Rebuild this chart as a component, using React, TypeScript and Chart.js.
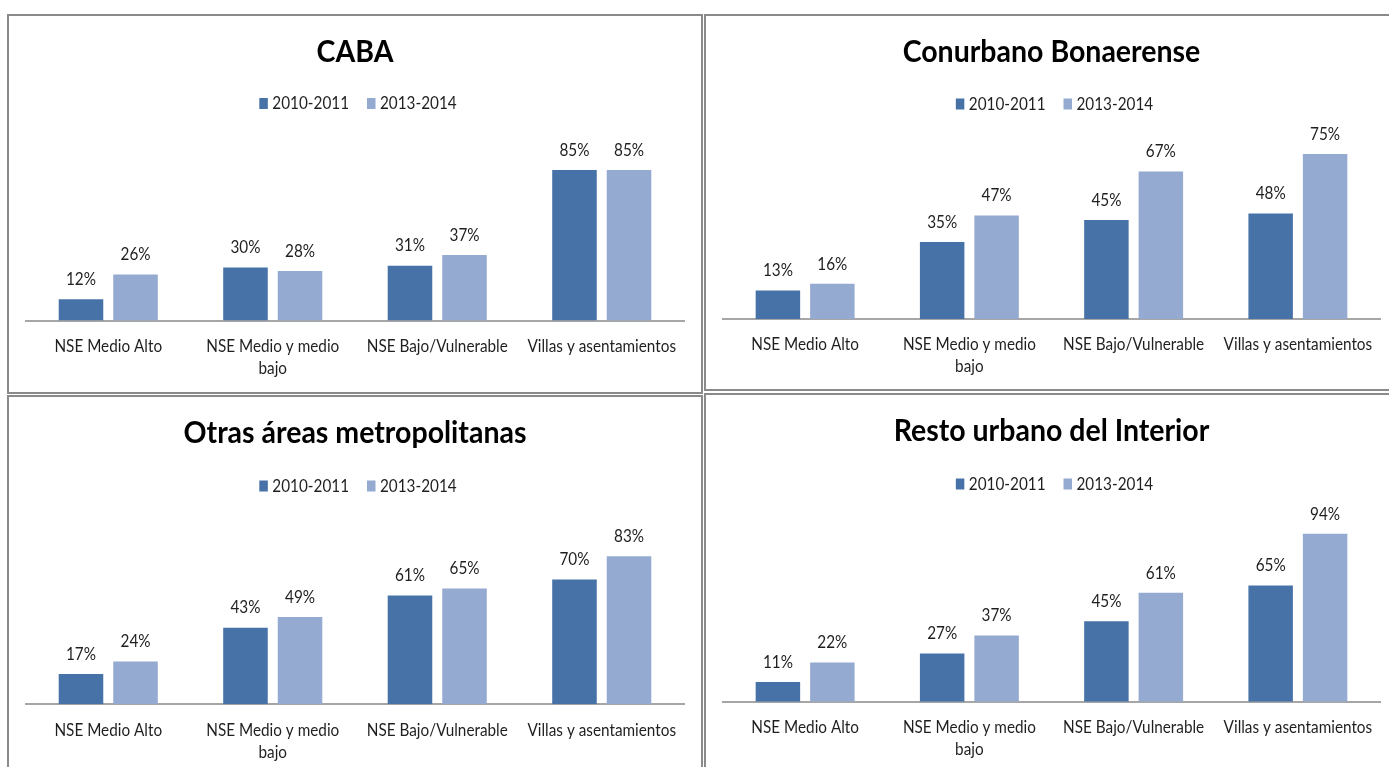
import React, { useEffect, useRef } from "react";
import { Chart, registerables } from "chart.js";

Chart.register(...registerables);

const FONT = "Lato, 'Open Sans', sans-serif";

const categories: (string | string[])[] = [
  "NSE Medio Alto",
  ["NSE Medio y medio", "bajo"],
  "NSE Bajo/Vulnerable",
  "Villas y asentamientos",
];
const seriesNames = ["2010-2011", "2013-2014"];
const seriesColors = ["#4672A8", "#95AAD1"];

const panelTitles = ["CABA", "Conurbano Bonaerense", "Otras áreas metropolitanas", "Resto urbano del Interior"];

const cabaFirst = [12, 30, 31, 85];
const cabaSecond = [26, 28, 37, 85];
const conurbanoFirst = [13, 35, 45, 48];
const conurbanoSecond = [16, 47, 67, 75];
const otrasFirst = [17, 43, 61, 70];
const otrasSecond = [24, 49, 65, 83];
const restoFirst = [11, 27, 45, 65];
const restoSecond = [22, 37, 61, 94];

const yMax = [100, 80, 100, 100];

const TEXT_SX = 0.85;
const TITLE_SX = 0.95;

function drawText(
  ctx: CanvasRenderingContext2D,
  text: string,
  x: number,
  y: number,
  font: string,
  sx: number,
  align: CanvasTextAlign,
  color: string
) {
  ctx.save();
  ctx.font = font;
  ctx.fillStyle = color;
  ctx.textAlign = align;
  ctx.textBaseline = "middle";
  ctx.translate(x, y);
  ctx.scale(sx, 1);
  ctx.fillText(text, 0, 0);
  ctx.restore();
}

function measure(ctx: CanvasRenderingContext2D, text: string, font: string, sx: number) {
  ctx.save();
  ctx.font = font;
  const w = ctx.measureText(text).width * sx;
  ctx.restore();
  return w;
}

const decorPlugin = {
  id: "decor",
  afterDatasetsDraw(chart: any, _args: any, opts: any) {
    const ctx = chart.ctx as CanvasRenderingContext2D;
    const area = chart.chartArea;
    const labelFont = `18px ${FONT}`;
    const textColor = "#1F1F1F";

    // data labels
    chart.data.datasets.forEach((ds: any, i: number) => {
      const meta = chart.getDatasetMeta(i);
      meta.data.forEach((el: any, j: number) => {
        drawText(ctx, `${ds.data[j]}%`, el.x, el.y - 20, labelFont, TEXT_SX, "center", textColor);
      });
    });

    // category labels along the x scale
    const xScale = chart.scales.x;
    chart.data.labels.forEach((lab: any, i: number) => {
      const lines = Array.isArray(lab) ? lab : [lab];
      const px = xScale.getPixelForValue(i);
      lines.forEach((ln: string, k: number) => {
        drawText(ctx, ln, px, area.bottom + 25.5 + k * 22, labelFont, TEXT_SX, "center", textColor);
      });
    });

    // title
    const cx = (area.left + area.right) / 2;
    drawText(ctx, opts.text, cx, opts.titleY, `bold 30px ${FONT}`, TITLE_SX, "center", "#000000");

    // legend
    const boxW = 8.5;
    const boxH = 11;
    const gapBoxText = 4.5;
    const gapItems = 18;
    const items = chart.data.datasets.map((ds: any) => ({
      label: ds.label as string,
      color: ds.backgroundColor as string,
      w: measure(ctx, ds.label, labelFont, TEXT_SX),
    }));
    let total = 0;
    items.forEach((it: any, i: number) => {
      total += boxW + gapBoxText + it.w + (i < items.length - 1 ? gapItems : 0);
    });
    let x = cx + 3 - total / 2;
    const ly = opts.legendY;
    items.forEach((it: any) => {
      ctx.save();
      ctx.fillStyle = it.color;
      ctx.fillRect(x, ly - boxH / 2, boxW, boxH);
      ctx.restore();
      x += boxW + gapBoxText;
      drawText(ctx, it.label, x, ly, labelFont, TEXT_SX, "left", textColor);
      x += it.w + gapItems;
    });
  },
};

type PanelProps = {
  title: string;
  first: number[];
  second: number[];
  max: number;
  box: { left: number; top: number; width: number; height: number };
  canvasW: number;
  canvasH: number;
  padLeft: number;
  padRight: number;
  padTop: number;
  padBottom: number;
  titleY: number;
  legendY: number;
};

function Panel(p: PanelProps) {
  const ref = useRef<HTMLCanvasElement | null>(null);
  useEffect(() => {
    if (!ref.current) return;
    const chart = new Chart(ref.current, {
      type: "bar",
      data: {
        labels: categories,
        datasets: [
          {
            label: seriesNames[0],
            data: p.first,
            backgroundColor: seriesColors[0],
            borderWidth: 0,
            categoryPercentage: 0.663,
            barPercentage: 0.817,
          },
          {
            label: seriesNames[1],
            data: p.second,
            backgroundColor: seriesColors[1],
            borderWidth: 0,
            categoryPercentage: 0.663,
            barPercentage: 0.817,
          },
        ],
      },
      options: {
        animation: false,
        responsive: false,
        devicePixelRatio: 1,
        layout: { padding: { left: p.padLeft, right: p.padRight, top: p.padTop, bottom: p.padBottom } },
        plugins: {
          legend: { display: false },
          title: { display: false },
          tooltip: { enabled: false },
          decor: { text: p.title, titleY: p.titleY, legendY: p.legendY },
        } as any,
        scales: {
          x: {
            grid: { display: false, drawTicks: false },
            border: { display: true, color: "#A6A6A6", width: 2 },
            ticks: { display: false },
          },
          y: {
            display: false,
            min: 0,
            max: p.max,
          },
        },
      },
      plugins: [decorPlugin],
    });
    return () => chart.destroy();
  }, []);
  return (
    <div
      style={{
        position: "absolute",
        left: p.box.left,
        top: p.box.top,
        width: p.box.width,
        height: p.box.height,
        border: "2px solid #8A8A8A",
        boxSizing: "border-box",
        background: "#FFFFFF",
        overflow: "hidden",
      }}
    >
      <canvas ref={ref} width={p.canvasW} height={p.canvasH} style={{ display: "block" }} />
    </div>
  );
}

export default function App() {
  return (
    <div
      style={{
        position: "absolute",
        left: 0,
        top: 0,
        width: 1389,
        height: 767,
        overflow: "hidden",
        background: "#FFFFFF",
      }}
    >
      <Panel
        title={panelTitles[0]}
        first={cabaFirst}
        second={cabaSecond}
        max={yMax[0]}
        box={{ left: 7, top: 14, width: 696, height: 380 }}
        canvasW={692}
        canvasH={376}
        padLeft={17}
        padRight={17}
        padTop={127.5}
        padBottom={376 - 304.5}
        titleY={36}
        legendY={87.5}
      />
      <Panel
        title={panelTitles[1]}
        first={conurbanoFirst}
        second={conurbanoSecond}
        max={yMax[1]}
        box={{ left: 704, top: 14, width: 700, height: 377 }}
        canvasW={686}
        canvasH={373}
        padLeft={17}
        padRight={12}
        padTop={127}
        padBottom={373 - 303}
        titleY={36}
        legendY={88}
      />
      <Panel
        title={panelTitles[2]}
        first={otrasFirst}
        second={otrasSecond}
        max={yMax[2]}
        box={{ left: 7, top: 395, width: 696, height: 400 }}
        canvasW={692}
        canvasH={396}
        padLeft={17}
        padRight={17}
        padTop={129}
        padBottom={396 - 307.3}
        titleY={36.5}
        legendY={89}
      />
      <Panel
        title={panelTitles[3]}
        first={restoFirst}
        second={restoSecond}
        max={yMax[3]}
        box={{ left: 704, top: 393, width: 700, height: 400 }}
        canvasW={686}
        canvasH={396}
        padLeft={17}
        padRight={12}
        padTop={128}
        padBottom={396 - 306.7}
        titleY={36.7}
        legendY={89}
      />
    </div>
  );
}
